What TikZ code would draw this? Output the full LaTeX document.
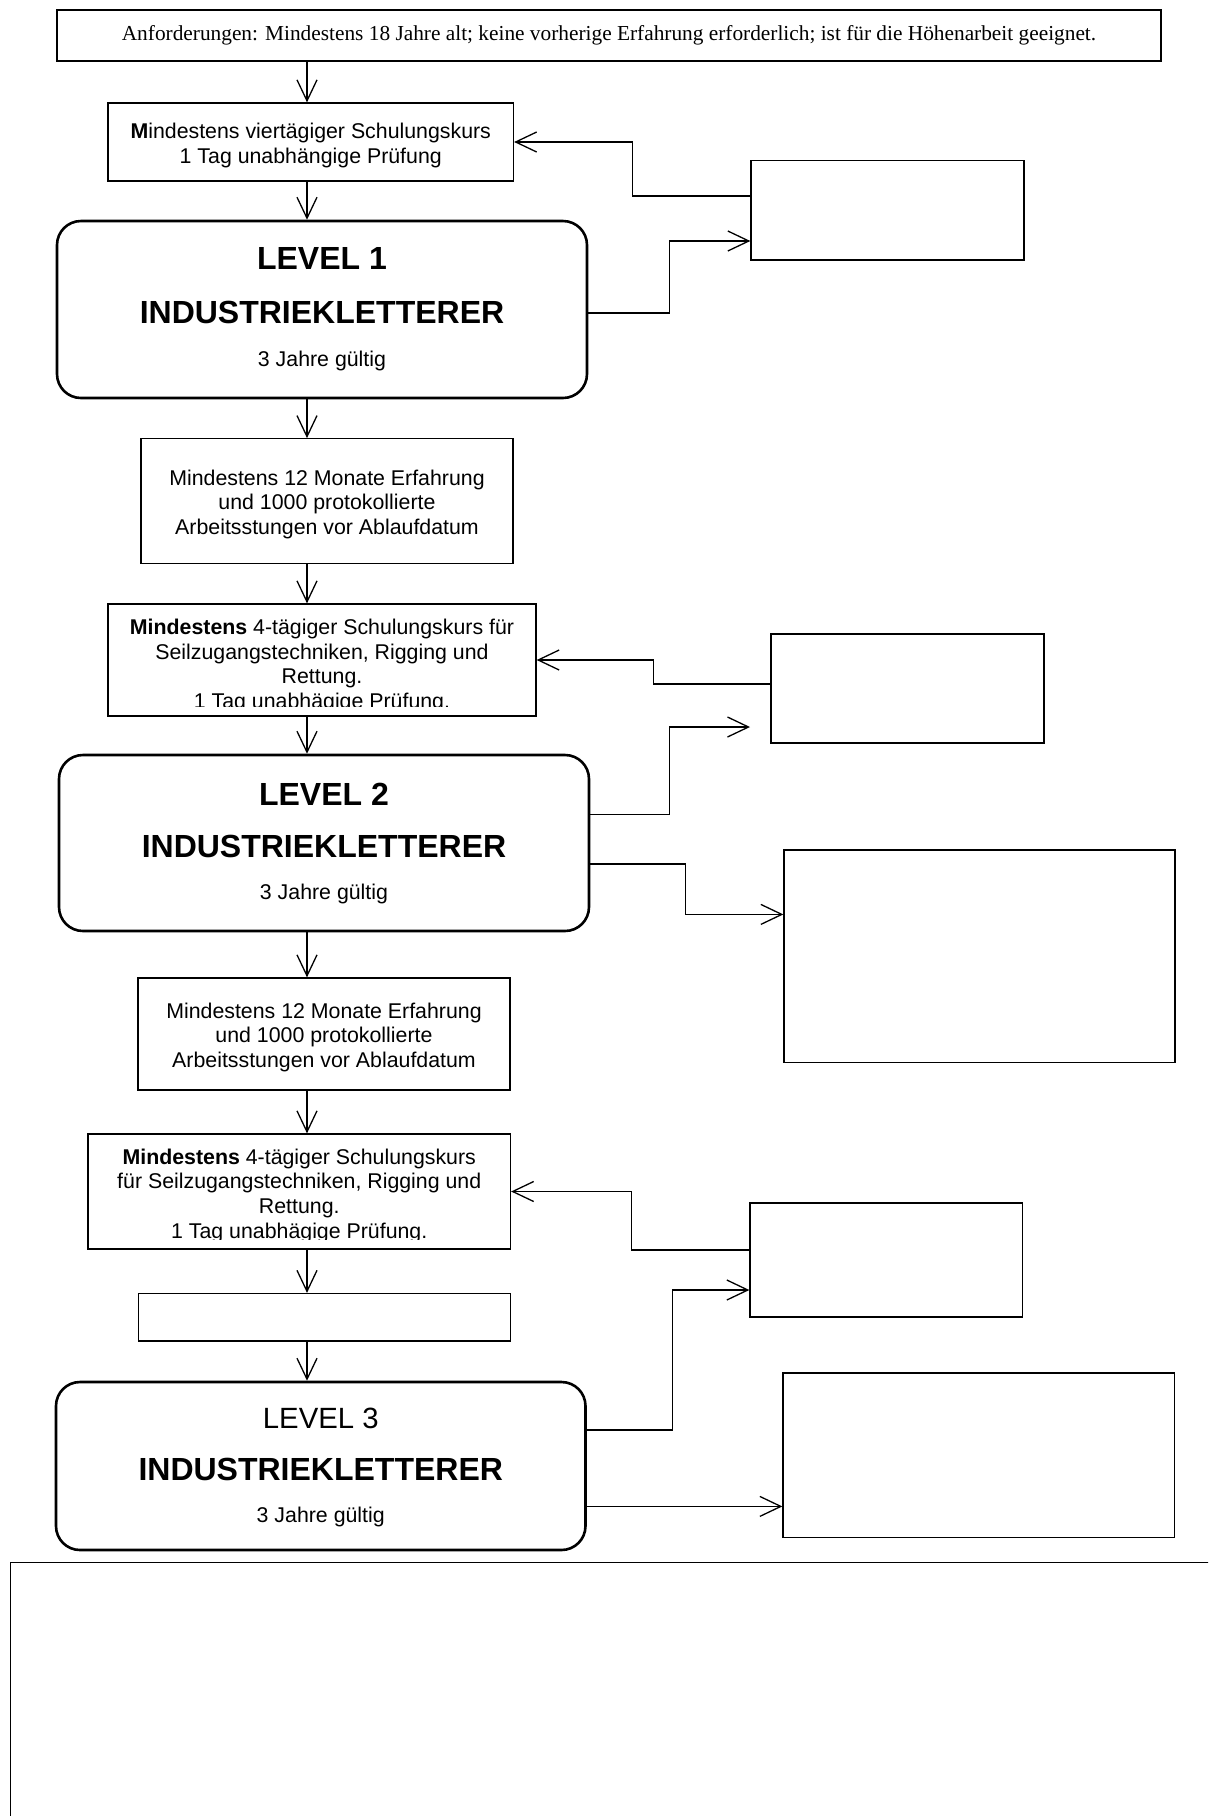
\documentclass[tikz,border=0pt]{standalone}
\usepackage{fontspec}
\setmainfont{Liberation Sans}
\newfontfamily\timesf{Liberation Serif}
\usetikzlibrary{arrows.meta}
\begin{document}
\begin{tikzpicture}[x=1pt,y=-1pt,
  box/.style={draw, rectangle, inner sep=0pt, line width=1.3pt},
  rbox/.style={draw, rectangle, rounded corners=24pt, inner sep=0pt, line width=2.6pt},
  arr/.style={line width=1.3pt, -{Straight Barb[length=21pt,width=20pt]}},
  txt/.style={inner sep=0pt, align=center, font=\fontsize{21.33}{24.6}\selectfont},
  big/.style={inner sep=0pt, anchor=base, font=\fontsize{32}{38}\selectfont\bfseries},
  mid/.style={inner sep=0pt, anchor=base, font=\fontsize{29.3}{35}\selectfont},
  small/.style={inner sep=0pt, anchor=base, font=\fontsize{21.33}{24.6}\selectfont},
]
\useasboundingbox (0,0) rectangle (1208,1816);
\fill[white] (0,0) rectangle (1208,1816);
\clip (0,0) rectangle (1208,1816);

% ---------- main column boxes ----------
\node[box, line width=1.5pt, minimum width=1104pt, minimum height=51pt,
      font=\timesf\fontsize{21.33}{24}\selectfont] (top) at (609,35.5)
  {Anforderungen: Mindestens 18 Jahre alt; keine vorherige Erfahrung erforderlich; ist für die Höhenarbeit geeignet.};

\node[box, minimum width=405.5pt, minimum height=78pt] (b1) at (310.75,142) {};
\node[txt, anchor=base, font=\fontsize{21.33}{25.3}\selectfont] (b1t) at (310.75,163.8)
  {\textbf{M}indestens viertägiger Schulungskurs\\1 Tag unabhängige Prüfung};

\node[rbox, minimum width=530pt, minimum height=177pt] (l1) at (322,309.5) {};
\node[big] (l1a) at (322,269.8) {LEVEL 1};
\node[big] (l1b) at (322,323.4) {INDUSTRIEKLETTERER};
\node[small] (l1c) at (322,366.6) {3 Jahre gültig};

\node[box, minimum width=372pt, minimum height=124.5pt] (e1) at (327,501) {};
\node[txt, anchor=base] (e1t) at (327,534.5)
  {Mindestens 12 Monate Erfahrung\\und 1000 protokollierte\\Arbeitsstungen vor Ablaufdatum};

\node[box, minimum width=428pt, minimum height=112pt] (b2) at (322,660) {};
\begin{scope}
  \clip (b2.north west) rectangle ([yshift=10pt]b2.south east);
  \node[txt, anchor=base] (b2t) at (322,708.4)
    {\textbf{Mindestens} 4-tägiger Schulungskurs für\\Seilzugangstechniken, Rigging und\\Rettung.\\1 Tag unabhägige Prüfung.};
\end{scope}

\node[rbox, minimum width=530pt, minimum height=176pt] (l2) at (324,843) {};
\node[big] (l2a) at (324,805) {LEVEL 2};
\node[big] (l2b) at (324,857.7) {INDUSTRIEKLETTERER};
\node[small] (l2c) at (324,899.8) {3 Jahre gültig};

\node[box, minimum width=372pt, minimum height=112pt] (e2) at (324,1034) {};
\node[txt, anchor=base] (e2t) at (324,1067.3)
  {Mindestens 12 Monate Erfahrung\\und 1000 protokollierte\\Arbeitsstungen vor Ablaufdatum};

\node[box, minimum width=422.5pt, minimum height=115pt] (b3) at (299.25,1191.5) {};
\begin{scope}
  \clip (b3.north west) rectangle ([yshift=10.5pt]b3.south east);
  \node[txt, anchor=base] (b3t) at (299.25,1238.1)
    {\textbf{Mindestens} 4-tägiger Schulungskurs\\für Seilzugangstechniken, Rigging und\\Rettung.\\1 Tag unabhägige Prüfung.};
\end{scope}

\node[box, minimum width=372pt, minimum height=47.5pt] (b4) at (324.5,1317.25) {};

\node[rbox, minimum width=529.5pt, minimum height=168pt] (l3) at (320.75,1466) {};
\node[mid] (l3a) at (320.75,1428.4) {LEVEL 3};
\node[big] (l3b) at (320.75,1480.8) {INDUSTRIEKLETTERER};
\node[small] (l3c) at (320.75,1522.9) {3 Jahre gültig};

% ---------- right boxes ----------
\node[box, minimum width=273pt, minimum height=99.3pt] (r1) at (887.5,210.35) {};
\node[box, minimum width=273pt, minimum height=109pt] (r2) at (907.5,688.5) {};
\node[box, minimum width=391pt, minimum height=212.5pt] (r3) at (979.5,956.25) {};
\node[box, minimum width=272.6pt, minimum height=114pt] (r4) at (886.3,1260) {};
\node[box, minimum width=391.6pt, minimum height=164.4pt] (r5) at (978.8,1455.2) {};

% ---------- bottom frame ----------
\node[box, anchor=north west, minimum width=1260pt, minimum height=320pt] (notes) at (9.6,1561.5) {};

% ---------- vertical arrows ----------
\coordinate (ax) at (307,0);
\draw[arr] (top.south -| ax) -- (b1.north -| ax);
\draw[arr] (b1.south -| ax) -- (l1.north -| ax);
\draw[arr] (l1.south -| ax) -- (e1.north -| ax);
\draw[arr] (e1.south -| ax) -- (b2.north -| ax);
\draw[arr] (b2.south -| ax) -- (l2.north -| ax);
\draw[arr] (l2.south -| ax) -- (e2.north -| ax);
\draw[arr] (e2.south -| ax) -- (b3.north -| ax);
\draw[arr] (b3.south -| ax) -- (b4.north -| ax);
\draw[arr] (b4.south -| ax) -- (l3.north -| ax);

% ---------- side connectors ----------
\draw[arr] ([yshift=14.35pt]r1.west) -- ++(-118,0) |- (b1.east);
\draw[arr] ([yshift=-3.5pt]l1.east) -- ++(81,0) |- ([yshift=-30.65pt]r1.west);

\coordinate (t2) at (750,727);
\draw[arr] ([yshift=4.5pt]r2.west) -- ++(-117,0) |- (b2.east);
\draw[arr] ([yshift=28.5pt]l2.east) -- ++(79,0) |- (t2);
\draw[arr] ([yshift=-21pt]l2.east) -- ++(95.5,0) |- ([yshift=41.85pt]r3.west);

\draw[arr] ([yshift=10pt]r4.west) -- ++(-118,0) |- (b3.east);
\draw[arr] ([yshift=36pt]l3.east) -- ++(85.5,0) |- ([yshift=-30pt]r4.west);
\draw[arr] ([yshift=-40.4pt]l3.east) -- ([yshift=-51.2pt]r5.west);
\end{tikzpicture}
\end{document}
